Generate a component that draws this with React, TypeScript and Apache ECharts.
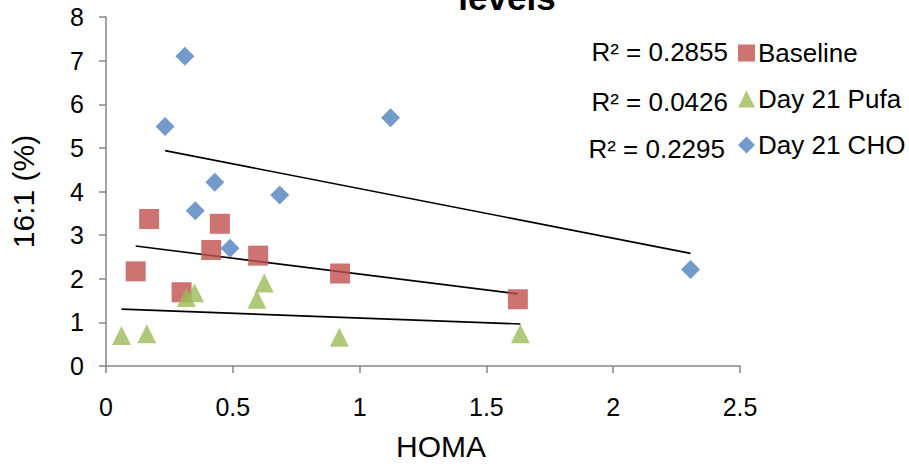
import React, { useEffect, useRef } from "react";
import * as echarts from "echarts";

const baselineX = [0.170, 0.449, 0.415, 0.600, 0.117, 0.298, 0.923, 1.624];
const baselineY = [3.37, 3.26, 2.66, 2.53, 2.17, 1.69, 2.12, 1.53];
const pufaX = [0.061, 0.161, 0.317, 0.349, 0.595, 0.624, 0.920, 1.634];
const pufaY = [0.70, 0.74, 1.57, 1.68, 1.53, 1.90, 0.66, 0.74];
const choX = [0.311, 0.233, 1.122, 0.429, 0.352, 0.685, 0.489, 2.305];
const choY = [7.10, 5.49, 5.69, 4.21, 3.56, 3.92, 2.70, 2.21];

const seriesNames = ["Baseline", "Day 21 Pufa", "Day 21 CHO"];
const rSquaredLabels = ["R² = 0.2855", "R² = 0.0426", "R² = 0.2295"];
const titleText = "levels";
const xAxisName = "HOMA";
const yAxisName = "16:1 (%)";

const colors = ["#C0504D", "#9BBB59", "#4F81BD"];
const FONT = "'Liberation Sans', Arial, sans-serif";

function pairs(xs: number[], ys: number[]) {
  return xs.map((x, i) => [x, ys[i]]);
}

function trend(xs: number[], ys: number[]) {
  const n = xs.length;
  const mx = xs.reduce((a, b) => a + b, 0) / n;
  const my = ys.reduce((a, b) => a + b, 0) / n;
  let sxy = 0;
  let sxx = 0;
  for (let i = 0; i < n; i++) {
    sxy += (xs[i] - mx) * (ys[i] - my);
    sxx += (xs[i] - mx) * (xs[i] - mx);
  }
  const slope = sxy / sxx;
  const x0 = Math.min(...xs);
  const x1 = Math.max(...xs);
  return [
    [x0, my + slope * (x0 - mx)],
    [x1, my + slope * (x1 - mx)],
  ];
}

export default function App() {
  const ref = useRef<HTMLDivElement>(null);
  useEffect(() => {
    document.body.style.margin = "0";
    if (!ref.current) return;
    const chart = echarts.init(ref.current, null, { renderer: "svg" });
    const groups = [
      { x: baselineX, y: baselineY, symbol: "rect", size: 20 },
      { x: pufaX, y: pufaY, symbol: "triangle", size: 19 },
      { x: choX, y: choY, symbol: "diamond", size: 19 },
    ];
    const scatterSeries = groups.map((g, i) => ({
      type: "scatter",
      name: seriesNames[i],
      data: pairs(g.x, g.y),
      symbol: g.symbol,
      symbolSize: g.size,
      itemStyle: { color: colors[i] },
      z: 3,
    }));
    const trendSeries = groups.map((g, i) => ({
      type: "line",
      name: seriesNames[i] + " trend",
      data: trend(g.x, g.y),
      symbol: "none",
      lineStyle: { color: "#000000", width: 1.6 },
      z: 2,
      silent: true,
    }));
    chart.setOption({
      animation: false,
      backgroundColor: "#ffffff",
      textStyle: { fontFamily: FONT },
      grid: { left: 106, right: 169, top: 17, bottom: 95, containLabel: false },
      xAxis: {
        type: "value",
        min: 0,
        max: 2.5,
        interval: 0.5,
        name: xAxisName,
        nameLocation: "middle",
        nameGap: 65,
        nameTextStyle: { fontSize: 30, color: "#000", fontFamily: FONT, padding: [0, 0, 0, 36] },
        axisLine: { lineStyle: { color: "#868686", width: 1.5 } },
        axisTick: { show: true, length: 7, lineStyle: { color: "#868686", width: 1.5 } },
        axisLabel: { fontSize: 25, color: "#000", margin: 28, fontFamily: FONT },
        splitLine: { show: false },
      },
      yAxis: {
        type: "value",
        min: 0,
        max: 8,
        interval: 1,
        name: yAxisName,
        nameLocation: "middle",
        nameGap: 68,
        nameRotate: 90,
        nameTextStyle: { fontSize: 30, color: "#000", fontFamily: FONT },
        axisLine: { show: true, lineStyle: { color: "#868686", width: 1.5 } },
        axisTick: { show: true, length: 7, lineStyle: { color: "#868686", width: 1.5 } },
        axisLabel: { fontSize: 25, color: "#000", margin: 22, fontFamily: FONT },
        splitLine: { show: false },
      },
      legend: {
        data: seriesNames.map((n, i) => ({ name: n, icon: groups[i].symbol })),
        orient: "vertical",
        left: 733,
        top: 35,
        itemWidth: 17,
        itemHeight: 17,
        itemGap: 20,
        textStyle: { fontSize: 26, color: "#000", fontFamily: FONT, padding: [0, 0, 0, -2] },
        selectedMode: false,
      },
      graphic: [
        {
          type: "text",
          x: 507,
          y: -20,
          style: {
            text: titleText,
            font: "bold 35px " + FONT,
            fill: "#000",
            textAlign: "center",
            textVerticalAlign: "top",
          },
        },
        ...rSquaredLabels.map((t, i) => ({
          type: "text",
          x: [728, 728, 725][i],
          y: [52, 102, 149][i],
          style: {
            text: t,
            font: "26px " + FONT,
            fill: "#000",
            textAlign: "right",
            textVerticalAlign: "middle",
          },
        })),
      ],
      series: [...trendSeries, ...scatterSeries],
    });
    return () => chart.dispose();
  }, []);
  return <div ref={ref} style={{ width: 909, height: 466 }} />;
}
